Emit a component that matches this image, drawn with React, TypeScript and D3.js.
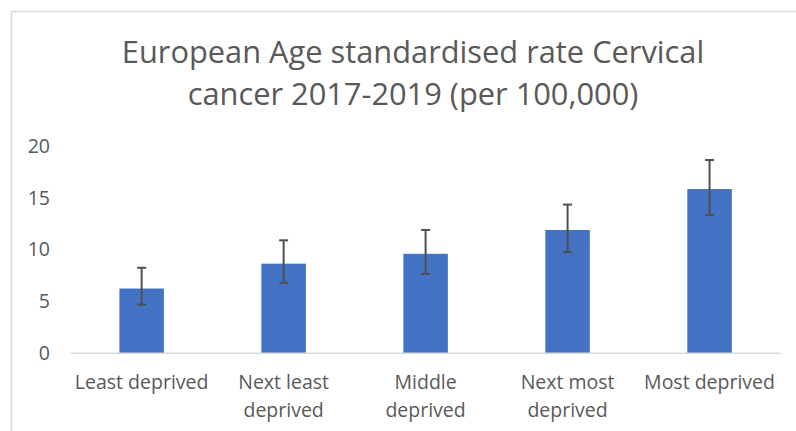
import * as d3 from "d3";
import { useEffect, useRef } from "react";

const categories = [
  ["Least deprived"],
  ["Next least", "deprived"],
  ["Middle", "deprived"],
  ["Next most", "deprived"],
  ["Most deprived"],
];
const rates = [6.25, 8.65, 9.6, 11.9, 15.85];
const lowerCI = [4.7, 6.8, 7.65, 9.75, 13.35];
const upperCI = [8.25, 10.9, 11.9, 14.35, 18.65];
const yTicks = [0, 5, 10, 15, 20];
const titleLines = [
  "European Age standardised rate Cervical",
  "cancer 2017-2019 (per 100,000)",
];

export default function App() {
  const svgRef = useRef<SVGSVGElement | null>(null);
  const width = 796;
  const height = 431;
  const font = "'Open Sans', sans-serif";
  const textColor = "#595959";

  useEffect(() => {
    document.body.style.margin = "0";
    const svg = d3.select(svgRef.current);
    svg.selectAll("*").remove();

    const keys = categories.map((c) => c.join(" "));
    const x = d3.scaleBand().domain(keys).range([70.7, 780.5]).paddingInner(0.6865).paddingOuter(0.343);
    const y = d3.scaleLinear().domain([0, 20]).range([353.3, 146]);

    // chart frame (only top and left edge visible)
    svg.append("line").attr("x1", 11).attr("x2", width).attr("y1", 11.5).attr("y2", 11.5)
      .attr("stroke", "#d9d9d9").attr("stroke-width", 1.5);
    svg.append("line").attr("x1", 11.5).attr("x2", 11.5).attr("y1", 11).attr("y2", height)
      .attr("stroke", "#d9d9d9").attr("stroke-width", 1.5);

    svg.append("g").selectAll("text").data(titleLines).join("text")
      .attr("x", 413).attr("y", (_, i) => 63 + i * 42)
      .attr("text-anchor", "middle")
      .attr("font-family", font).attr("font-size", 30.8)
      .attr("fill", textColor)
      .text((d) => d);

    svg.append("g").selectAll("text").data(yTicks).join("text")
      .attr("x", 50).attr("y", (d) => y(d)).attr("dy", "0.35em")
      .attr("text-anchor", "end")
      .attr("font-family", font).attr("font-size", 19.5)
      .attr("fill", textColor)
      .text((d) => d);

    svg.append("g").selectAll("rect").data(rates).join("rect")
      .attr("x", (_, i) => x(keys[i])!)
      .attr("width", x.bandwidth())
      .attr("y", (d) => y(d))
      .attr("height", (d) => y(0) - y(d))
      .attr("fill", "#4472c4");

    svg.append("line").attr("x1", 70.7).attr("x2", 780.5).attr("y1", y(0)).attr("y2", y(0))
      .attr("stroke", "#d9d9d9").attr("stroke-width", 1.5);

    const err = svg.append("g").attr("stroke", "#505050").attr("stroke-width", 2).attr("fill", "none");
    rates.forEach((_, i) => {
      const cx = x(keys[i])! + x.bandwidth() / 2;
      err.append("line").attr("x1", cx).attr("x2", cx).attr("y1", y(lowerCI[i])).attr("y2", y(upperCI[i]));
      err.append("line").attr("x1", cx - 4.5).attr("x2", cx + 4.5).attr("y1", y(lowerCI[i])).attr("y2", y(lowerCI[i]));
      err.append("line").attr("x1", cx - 4.5).attr("x2", cx + 4.5).attr("y1", y(upperCI[i])).attr("y2", y(upperCI[i]));
    });

    const labels = svg.append("g");
    categories.forEach((lines, i) => {
      const cx = x(keys[i])! + x.bandwidth() / 2;
      labels.append("text")
        .attr("x", cx).attr("y", 389)
        .attr("text-anchor", "middle")
        .attr("font-family", font).attr("font-size", 19.5)
        .attr("fill", textColor)
        .selectAll("tspan").data(lines).join("tspan")
        .attr("x", cx).attr("dy", (_, j) => (j === 0 ? 0 : 28))
        .text((d) => d);
    });
  }, []);

  return (
    <div>
      <svg ref={svgRef} width={width} height={height} style={{ display: "block" }}></svg>
    </div>
  );
}
